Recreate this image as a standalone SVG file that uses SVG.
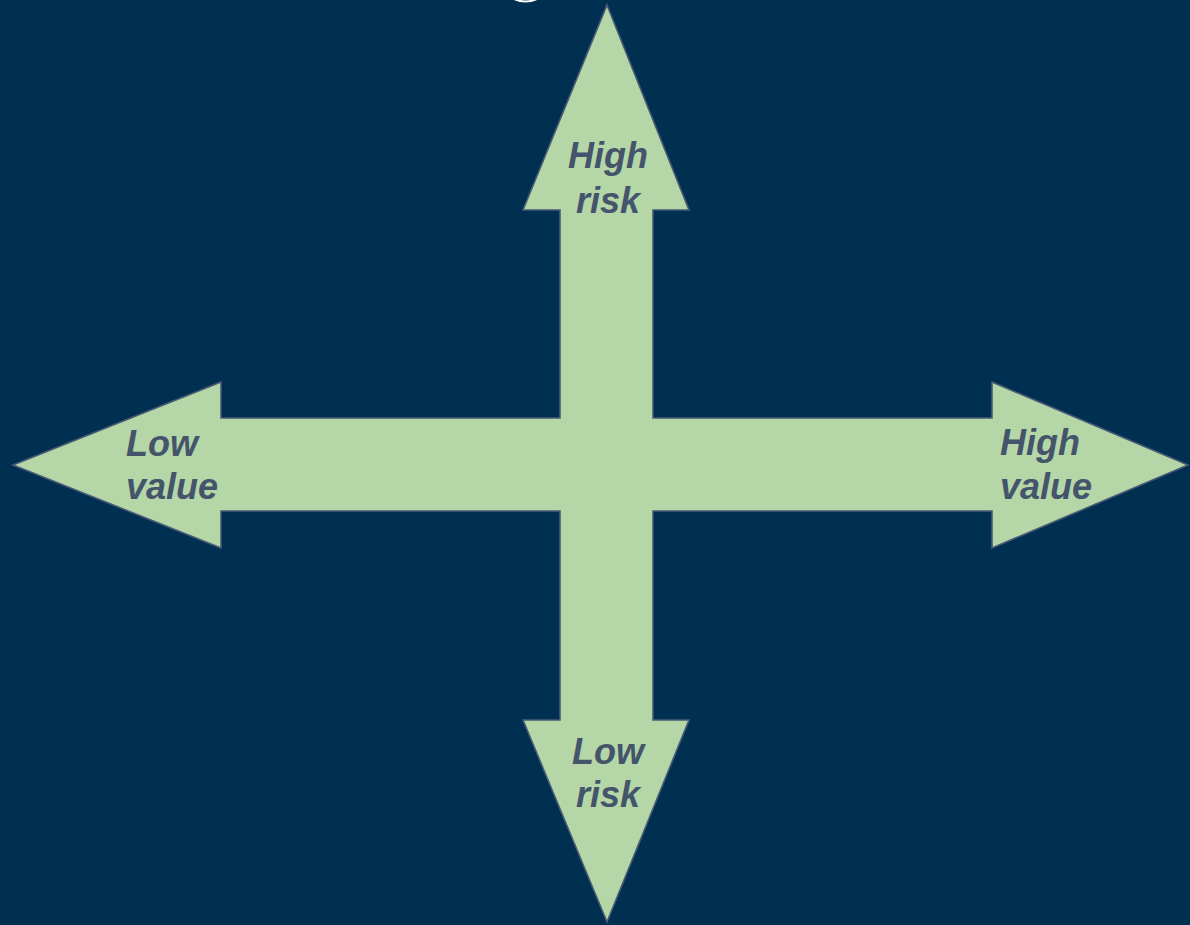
<svg xmlns="http://www.w3.org/2000/svg" width="1190" height="925" viewBox="0 0 1190 925">
<style>
.bg{fill:#003051}
.arrow{fill:#b5d6a7;stroke:#4a5a75;stroke-width:1.6;stroke-linejoin:miter}
.lbl{font-family:"Liberation Sans",Arial,sans-serif;font-size:36px;font-weight:bold;font-style:italic;fill:#44546a}
.mid{text-anchor:middle}
</style>
<rect class="bg" x="0" y="0" width="1190" height="925"/>
<path d="M514,-1 Q525.5,4 537,-1" fill="none" stroke="#ffffff" stroke-width="2"/>
<g id="connectors">
<polygon id="cross" class="arrow" points="607,5 689,210 653,210 653,418 992,418 992,382 1188,465 992,548 992,511 653,511 653,720 689,720 607,922 523,720 560,720 560,511 221,511 221,548 13,465 221,382 221,418 560,418 560,210 523,210"/>
</g>
<g id="high-risk"><text class="lbl mid" x="608" y="168">High</text><text class="lbl mid" x="608" y="213">risk</text></g>
<g id="low-risk"><text class="lbl mid" x="608" y="764">Low</text><text class="lbl mid" x="608" y="807">risk</text></g>
<g id="low-value"><text class="lbl" x="126" y="456">Low</text><text class="lbl" x="126" y="499">value</text></g>
<g id="high-value"><text class="lbl" x="1000" y="455">High</text><text class="lbl" x="1000" y="499">value</text></g>
</svg>
